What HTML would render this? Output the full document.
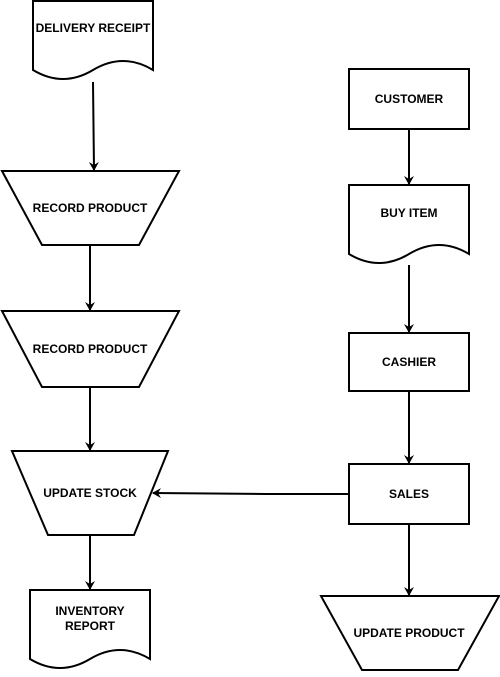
<!DOCTYPE html>
<html><head><style>body{margin:0;background:#fff}svg text{font-family:"Liberation Sans",Arial,sans-serif;font-size:12px;font-weight:bold;text-anchor:middle}</style></head>
<body><svg width="500" height="672" viewBox="0 0 500 672" xmlns="http://www.w3.org/2000/svg">
<defs><marker id="a" markerWidth="10" markerHeight="10" refX="8" refY="5" orient="auto" markerUnits="userSpaceOnUse"><path d="M0,0 L9,5 L0,10 L3,5 Z" fill="#000"/></marker></defs>
<g fill="#fff" stroke="#000" stroke-width="2">
<path d="M33,1 L153,1 L153,70 C133,58 113,58 93,70 S53,82 33,70 Z"/>
<path d="M2,171 L179,171 L139,245 L42,245 Z"/>
<path d="M2,311 L179,311 L139,387 L42,387 Z"/>
<path d="M12,451 L168,451 L134,535 L48,535 Z"/>
<path d="M30,590 L150,590 L150,659 C130,647 110,647 90,659 S50,671 30,659 Z"/>
<rect x="349" y="69" width="120" height="60"/>
<path d="M349,185 L469,185 L469,254 C449,242 429,242 409,254 S369,266 349,254 Z"/>
<rect x="349" y="333" width="120" height="58"/>
<rect x="349" y="464" width="120" height="60"/>
<path d="M321,596 L499,596 L458,670 L362,670 Z"/>
</g>
<g stroke="#000" stroke-width="2" fill="none" marker-end="url(#a)">
<path d="M93,82 L94,170"/>
<path d="M90,245 L90,310"/>
<path d="M90,387 L90,450"/>
<path d="M90,535 L90,589"/>
<path d="M409,129 L409,184"/>
<path d="M409,265 L409,332"/>
<path d="M409,391 L409,463"/>
<path d="M349,494 L265,494 L153,493"/>
<path d="M409,524 L409,595"/>
</g>
<text x="93" y="32">DELIVERY RECEIPT</text>
<text x="90" y="212">RECORD PRODUCT</text>
<text x="90" y="353">RECORD PRODUCT</text>
<text x="90" y="497">UPDATE STOCK</text>
<text x="90" y="615">INVENTORY</text>
<text x="90" y="630">REPORT</text>
<text x="409" y="103">CUSTOMER</text>
<text x="409" y="217">BUY ITEM</text>
<text x="409" y="366">CASHIER</text>
<text x="409" y="498">SALES</text>
<text x="409" y="637">UPDATE PRODUCT</text>
</svg></body></html>
